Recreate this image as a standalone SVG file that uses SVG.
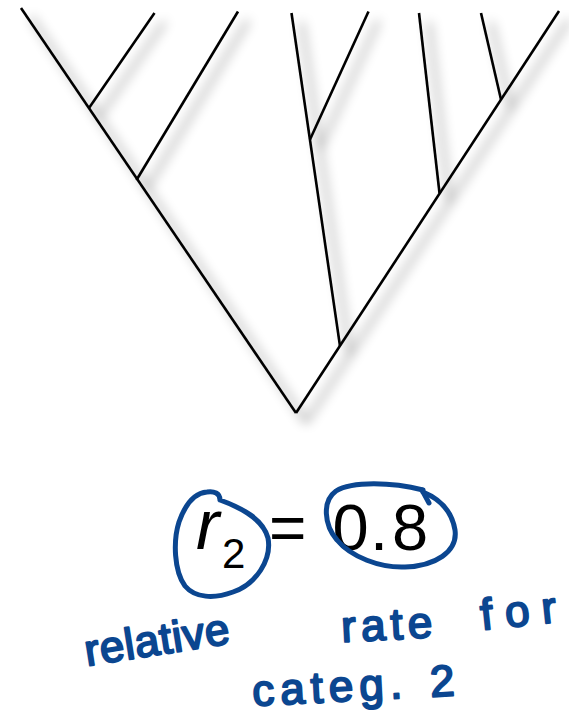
<svg xmlns="http://www.w3.org/2000/svg" width="569" height="721" viewBox="0 0 569 721">
  <style>
    .br { stroke: #000; stroke-width: 2.6; fill: none; stroke-linecap: butt; }
    .math { font-family: "Liberation Sans", Arial, sans-serif; fill: #000; }
    .ink { fill: none; stroke: #0b4690; stroke-width: 5; stroke-linecap: round; stroke-linejoin: round; }
    .hand { font-family: "Liberation Sans", Arial, sans-serif; fill: #0b4690; stroke: #0b4690; stroke-width: 2; stroke-linejoin: round; }
  </style>
  <defs>
    <filter id="shadow" x="-20%" y="-20%" width="140%" height="140%">
      <feGaussianBlur in="SourceAlpha" stdDeviation="6" result="b"/>
      <feOffset in="b" dx="10" dy="9" result="o"/>
      <feComponentTransfer in="o" result="s">
        <feFuncA type="linear" slope="0.5"/>
      </feComponentTransfer>
      <feMerge>
        <feMergeNode in="s"/>
        <feMergeNode in="SourceGraphic"/>
      </feMerge>
    </filter>
  </defs>
  <rect width="569" height="721" fill="#fff"/>
  <g id="connectors" filter="url(#shadow)">
    <line class="br" x1="21" y1="8" x2="296" y2="413"/>
    <line class="br" x1="296" y1="413" x2="559" y2="11"/>
    <line class="br" x1="89" y1="108" x2="154.5" y2="13"/>
    <line class="br" x1="136.5" y1="180" x2="238" y2="11.5"/>
    <line class="br" x1="291.5" y1="13" x2="340" y2="346"/>
    <line class="br" x1="310" y1="139.5" x2="368.5" y2="11.5"/>
    <line class="br" x1="419" y1="13" x2="439.5" y2="193"/>
    <line class="br" x1="481" y1="13" x2="501" y2="99.5"/>
  </g>
  <g id="formula">
    <text class="math" x="196" y="549" font-size="70" font-style="italic">r</text>
    <text class="math" x="222" y="568" font-size="42">2</text>
    <text class="math" x="269" y="550" font-size="64">=</text>
    <text class="math" y="550" font-size="65"><tspan x="332.5">0</tspan><tspan x="370">.</tspan><tspan x="392">8</tspan></text>
  </g>
  <g id="annotation">
    <path class="ink" d="M 220,500 C 242,508 263,519 268,538 C 272,560 256,584 233,592 C 214,599 195,598 185,586 C 174,571 173,541 179,522 C 185,505 194,493 207,492 C 214,491 220,493 220,500"/>
    <path class="ink" d="M 423,490 C 392,482 352,481 336,491 C 322,501 324,525 337,540 C 351,557 380,568 405,567 C 435,566 458,552 455,530 C 452,512 440,499 423,492"/>
    <path class="ink" d="M 422,490 L 429,503" stroke-width="7"/>
    <text class="hand" x="87" y="666" font-size="44" textLength="146" lengthAdjust="spacing" transform="rotate(-9 87 666)">relative</text>
    <text class="hand" x="342" y="642" font-size="44" textLength="91" lengthAdjust="spacing" transform="rotate(-3 342 642)">rate</text>
    <text class="hand" x="482" y="630" font-size="44" textLength="76" lengthAdjust="spacing" transform="rotate(-6 482 630)">for</text>
    <text class="hand" font-size="44" transform="rotate(-3 253 706)"><tspan x="253" y="706" letter-spacing="6">categ.</tspan><tspan x="431" y="706">2</tspan></text>
  </g>
</svg>
